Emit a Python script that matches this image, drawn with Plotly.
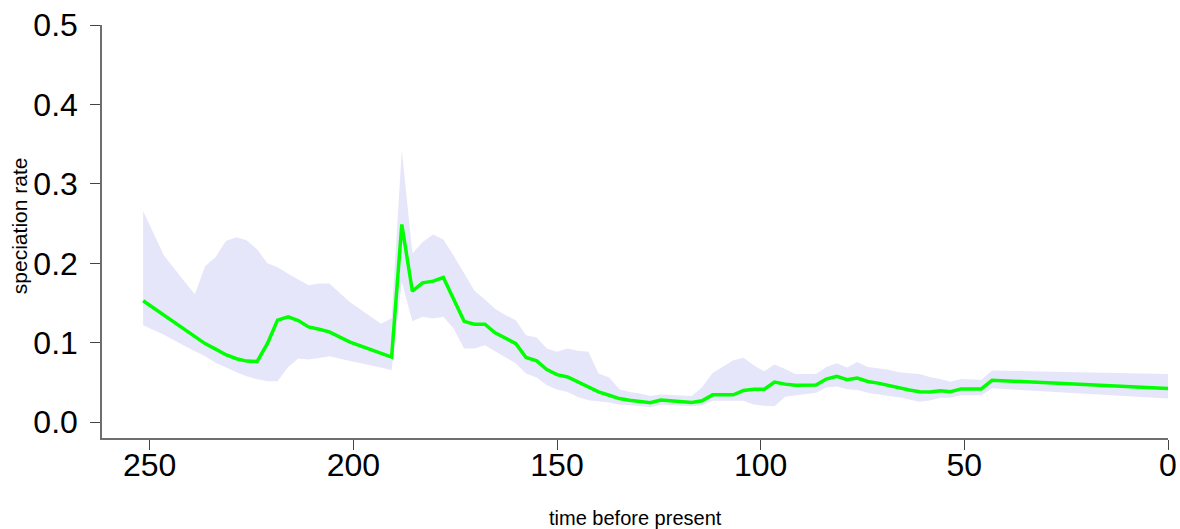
import plotly.graph_objects as go

# time before present (Myr) of each evaluated point
time = [251.6, 246.5, 241.4, 238.9, 236.4, 233.8, 231.3, 228.7, 226.2, 223.6,
        221.1, 218.6, 216.0, 213.5, 211.0, 208.4, 205.9, 200.8, 193.2, 190.6,
        188.1, 185.5, 183.0, 180.4, 177.9, 175.4, 172.8, 170.3, 167.7, 165.2,
        162.7, 160.1, 157.6, 155.0, 152.5, 150.0, 147.4, 144.9, 142.3, 139.8,
        137.2, 134.7, 132.2, 129.6, 127.1, 124.5, 116.9, 114.4, 111.8, 109.3,
        106.7, 104.2, 101.7, 99.1, 96.6, 94.0, 91.5, 86.4, 83.9, 81.3,
        78.8, 76.3, 73.7, 71.2, 68.6, 66.1, 63.5, 61.0, 58.5, 55.9,
        53.4, 50.8, 45.8, 43.2, 0.0]

# mean speciation rate
rate_mean = [0.153, 0.135, 0.116, 0.108, 0.099, 0.092, 0.085, 0.080, 0.077, 0.0765,
             0.099, 0.1285, 0.1327, 0.128, 0.120, 0.117, 0.1137, 0.101, 0.087, 0.082,
             0.249, 0.165, 0.1755, 0.1776, 0.1822, 0.156, 0.127, 0.1234, 0.1234, 0.1125,
             0.106, 0.099, 0.0815, 0.0772, 0.0664, 0.060, 0.057, 0.0508, 0.0453, 0.0382,
             0.034, 0.0298, 0.0277, 0.0264, 0.0245, 0.028, 0.025, 0.027, 0.0345, 0.0345,
             0.0345, 0.040, 0.0415, 0.0415, 0.0505, 0.048, 0.0465, 0.047, 0.0544, 0.0578,
             0.0535, 0.0557, 0.0514, 0.0493, 0.0462, 0.0437, 0.0407, 0.0385, 0.0382, 0.0398,
             0.0385, 0.042, 0.042, 0.053, 0.0425]

# lower bound of the rate interval
rate_low = [0.122, 0.110, 0.096, 0.090, 0.083, 0.075, 0.069, 0.063, 0.058, 0.054,
            0.0516, 0.0516, 0.0697, 0.0802, 0.079, 0.081, 0.083, 0.077, 0.069, 0.0655,
            0.177, 0.127, 0.1327, 0.1306, 0.1327, 0.118, 0.0928, 0.0928, 0.097, 0.0886,
            0.082, 0.074, 0.0613, 0.0563, 0.0466, 0.0412, 0.0382, 0.0319, 0.0277, 0.0268,
            0.025, 0.0223, 0.021, 0.0205, 0.019, 0.022, 0.0203, 0.021, 0.027, 0.027,
            0.027, 0.027, 0.0224, 0.0207, 0.0203, 0.0322, 0.034, 0.0373, 0.0437, 0.045,
            0.0416, 0.0407, 0.0373, 0.035, 0.033, 0.0314, 0.029, 0.0258, 0.0274, 0.0309,
            0.0309, 0.0339, 0.0339, 0.0428, 0.030]

# upper bound of the rate interval
rate_high = [0.266, 0.210, 0.177, 0.161, 0.1965, 0.208, 0.228, 0.233, 0.229, 0.2175,
             0.200, 0.195, 0.187, 0.180, 0.1725, 0.1747, 0.1747, 0.151, 0.124, 0.131,
             0.3426, 0.2125, 0.227, 0.2364, 0.230, 0.210, 0.188, 0.166, 0.1545, 0.143,
             0.135, 0.1285, 0.1096, 0.1067, 0.0928, 0.0886, 0.0928, 0.090, 0.0886, 0.0613,
             0.0563, 0.0416, 0.038, 0.0361, 0.033, 0.035, 0.033, 0.044, 0.062, 0.0697,
             0.0782, 0.0812, 0.0718, 0.0641, 0.0727, 0.067, 0.0607, 0.0607, 0.0697, 0.0744,
             0.0689, 0.0757, 0.0697, 0.068, 0.0662, 0.063, 0.062, 0.0607, 0.057, 0.0544,
             0.0509, 0.0544, 0.0535, 0.065, 0.0607]

x_ticks = [250, 200, 150, 100, 50, 0]
y_ticks = [0.0, 0.1, 0.2, 0.3, 0.4, 0.5]

FONT = "Liberation Sans, Arial, Helvetica, sans-serif"

fig = go.Figure()

# interval band as a closed polygon
fig.add_trace(go.Scatter(
    x=time + time[::-1],
    y=rate_high + rate_low[::-1],
    fill="toself",
    fillcolor="#E6E6FA",
    line=dict(width=0, color="rgba(0,0,0,0)"),
    mode="lines",
    hoverinfo="skip",
    showlegend=False,
))

# mean rate line
fig.add_trace(go.Scatter(
    x=time,
    y=rate_mean,
    mode="lines",
    line=dict(color="#00FF00", width=3.5),
    showlegend=False,
))

axis_common = dict(
    showgrid=False,
    zeroline=False,
    showline=True,
    linecolor="#6e6e6e",
    linewidth=1.5,
    ticks="outside",
    ticklen=10,
    tickwidth=1.2,
    tickcolor="#444444",
    tickfont=dict(family=FONT, size=32, color="black"),
    automargin=False,
)

fig.update_xaxes(
    range=[261.7, 0],
    tickvals=x_ticks,
    ticktext=[str(v) for v in x_ticks],
    ticklabelstandoff=-12,
    **axis_common,
)
fig.update_yaxes(
    range=[-0.0198, 0.5],
    tickvals=y_ticks,
    ticktext=[f"{v:.1f}" for v in y_ticks],
    ticklabelstandoff=6,
    **axis_common,
)

fig.add_annotation(
    text="speciation rate", textangle=-90,
    xref="paper", yref="paper", x=-0.078, y=0.515,
    xanchor="center", yanchor="middle", showarrow=False,
    font=dict(family=FONT, size=21, color="black"),
)
fig.add_annotation(
    text="time before present",
    xref="paper", yref="paper", x=0.5, y=-0.194,
    xanchor="center", yanchor="middle", showarrow=False,
    font=dict(family=FONT, size=20, color="black"),
)

fig.update_layout(
    width=1180, height=529,
    margin=dict(l=102, r=12, t=25, b=91, autoexpand=False),
    plot_bgcolor="white",
    paper_bgcolor="white",
)

fig.write_html("out.html")
